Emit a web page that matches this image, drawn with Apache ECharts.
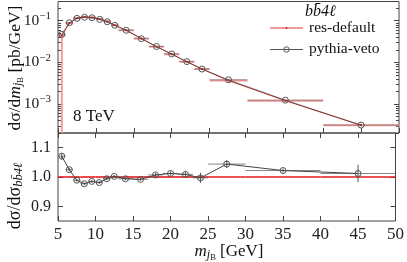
<!DOCTYPE html>
<html><head><meta charset="utf-8">
<script src="https://cdn.jsdelivr.net/npm/echarts@6/dist/echarts.min.js"></script>
<style>html,body{margin:0;padding:0;background:#fff}#c{width:407px;height:262px}</style>
</head><body><div id="c"></div>
<script>
// ---- data ----
const binLo  = [5,6,7,8,9,10,11,12,13,15,17,19,21,23,25,30,40];
const binHi  = [6,7,8,9,10,11,12,13,15,17,19,21,23,25,30,40,50];
const binMid = [5.5,6.5,7.5,8.5,9.5,10.5,11.5,12.5,14,16,18,20,22,24,27.5,35,45];
const resDefault = [0.0439,0.0873,0.1153,0.1238,0.1198,0.1101,0.0952,0.0774,0.0593,0.0373,0.0238,0.0157,0.0103,0.00692,0.00364,0.00120,0.000306];
const resErrDown = [0.0439,0.0006,0.0006,0.0006,0.0006,0.0006,0.0005,0.0004,0.0003,0.0002,0.00015,0.0001,0.0001,0.00008,0.00005,0.00002,0.00001];
const resErrUp   = [0.004,0.0006,0.0006,0.0006,0.0006,0.0006,0.0005,0.0004,0.0003,0.0002,0.00015,0.0001,0.0001,0.00008,0.00005,0.00002,0.00001];
const pythiaVeto = [0.047,0.0895,0.114,0.121,0.118,0.108,0.0946,0.0776,0.0589,0.037,0.024,0.0159,0.0104,0.0069,0.0038,0.00123,0.00031];
const pythiaErr  = [0.0005,0.0005,0.0006,0.0006,0.0006,0.0005,0.0005,0.0004,0.0003,0.0002,0.00015,0.0001,0.0001,0.0001,0.00005,0.00001,0.00001];
const ratioPythia = [1.071,1.025,0.989,0.977,0.985,0.981,0.994,1.002,0.994,0.992,1.007,1.012,1.009,0.997,1.044,1.022,1.012];
const ratioErr    = [0.011,0.006,0.005,0.005,0.005,0.005,0.005,0.005,0.005,0.005,0.006,0.007,0.010,0.017,0.014,0.007,0.030];
const ratioRes    = [1,1,1,1,1,1,1,1,1,1,1,1,1,1,1,1,1];
const logMajorTicks = [0.001,0.01,0.1];
const logMinorTicks = [0.0002,0.0003,0.0004,0.0005,0.0006,0.0007,0.0008,0.0009,
  0.002,0.003,0.004,0.005,0.006,0.007,0.008,0.009,
  0.02,0.03,0.04,0.05,0.06,0.07,0.08,0.09,0.2];
const ratioTicks = [0.9,1.0,1.1];

// ---- layout / style ----
const FONT = 'Liberation Serif';
const GL = 58, GW = 341;
const Y_MIN = 0.0002, Y_MAX = 0.29;
const X_MIN = 5, X_MAX = 50;
const AX = '#444';

function hbar(color, width, opacity){
  return function(params, api){
    const a = api.coord([api.value(0), api.value(2)]);
    const b = api.coord([api.value(1), api.value(2)]);
    return {type:'line', shape:{x1:a[0],y1:a[1],x2:b[0],y2:b[1]},
      style:{stroke:color, lineWidth:width, opacity:opacity}};
  };
}
function vbar(color, width, yLow){
  return function(params, api){
    const lo = Math.max(api.value(1), yLow);
    const a = api.coord([api.value(0), lo]);
    const b = api.coord([api.value(0), api.value(2)]);
    return {type:'line', shape:{x1:a[0],y1:a[1],x2:b[0],y2:b[1]},
      style:{stroke:color, lineWidth:width}};
  };
}
function minorTick(params, api){
  const l = api.coord([X_MIN, api.value(0)]);
  const r = api.coord([X_MAX, api.value(0)]);
  return {type:'group', children:[
    {type:'line', shape:{x1:l[0],y1:Math.round(l[1])+0.5,x2:l[0]+3,y2:Math.round(l[1])+0.5}, style:{stroke:AX,lineWidth:1}},
    {type:'line', shape:{x1:r[0]-3,y1:Math.round(r[1])+0.5,x2:r[0],y2:Math.round(r[1])+0.5}, style:{stroke:AX,lineWidth:1}}
  ]};
}

const chart = echarts.init(document.getElementById('c'), null, {renderer:'canvas', width:407, height:262});

const tickStyle = {inside:true, length:5, lineStyle:{color:AX, width:1}};
const xBase = {type:'value', min:X_MIN, max:X_MAX, interval:5, axisLine:{show:false}, splitLine:{show:false}};

const option = {
  animation:false,
  backgroundColor:'#fff',
  grid:[
    {left:GL, width:GW, top:1.5, height:131.5, show:true, borderColor:AX, borderWidth:1, backgroundColor:'transparent'},
    {left:GL, width:GW, top:133, height:88, show:true, borderColor:AX, borderWidth:1, backgroundColor:'transparent'}
  ],
  xAxis:[
    Object.assign({}, xBase, {gridIndex:0, position:'bottom', axisTick:tickStyle, axisLabel:{show:false}}),
    Object.assign({}, xBase, {gridIndex:1, position:'bottom', axisTick:tickStyle,
      axisLabel:{fontFamily:FONT, fontSize:17, color:'#222', margin:5}}),
    Object.assign({}, xBase, {gridIndex:1, position:'top', axisTick:tickStyle, axisLabel:{show:false}})
  ],
  yAxis:[
    {gridIndex:0, type:'log', logBase:10, min:Y_MIN, max:Y_MAX, position:'left',
      axisLine:{show:false}, splitLine:{show:false},
      axisTick:Object.assign({customValues:logMajorTicks}, tickStyle),
      axisLabel:{customValues:logMajorTicks, margin:7,
        formatter:function(v){ const e = Math.round(Math.log10(v)); return '{m|10}{s|\u2212' + Math.abs(e) + '}'; },
        rich:{m:{fontFamily:FONT, fontSize:15.5, color:'#222'}, s:{fontFamily:FONT, fontSize:11, color:'#222', padding:[0,0,9,0]}}}},
    {gridIndex:0, type:'log', logBase:10, min:Y_MIN, max:Y_MAX, position:'right',
      axisLine:{show:false}, splitLine:{show:false},
      axisTick:Object.assign({customValues:logMajorTicks}, tickStyle), axisLabel:{show:false}},
    {gridIndex:1, type:'value', min:0.85, max:1.15, position:'left',
      axisLine:{show:false}, splitLine:{show:false},
      axisTick:Object.assign({customValues:ratioTicks}, tickStyle),
      axisLabel:{customValues:ratioTicks, fontFamily:FONT, fontSize:16, color:'#222', margin:7,
        formatter:function(v){ return v.toFixed(1); }}},
    {gridIndex:1, type:'value', min:0.85, max:1.15, position:'right',
      axisLine:{show:false}, splitLine:{show:false},
      axisTick:Object.assign({customValues:ratioTicks}, tickStyle), axisLabel:{show:false}}
  ],
  series:[
    {type:'custom', name:'minor', xAxisIndex:0, yAxisIndex:0, clip:false, silent:true,
      renderItem:minorTick, data:logMinorTicks.map(v=>[v]), encode:{y:0}, z:1},
    // upper panel: res-default
    {type:'custom', xAxisIndex:0, yAxisIndex:0, silent:true, clip:true,
      renderItem:hbar('#f29a9a', 2, 1), data:binLo.map((l,i)=>[l, binHi[i], resDefault[i]]), z:2},
    {type:'custom', xAxisIndex:0, yAxisIndex:0, silent:true, clip:true,
      renderItem:vbar('#f29a9a', 2, Y_MIN), data:binMid.map((x,i)=>[x, resDefault[i]-resErrDown[i], resDefault[i]+resErrUp[i]]), z:2},
    // upper panel: pythia-veto bars
    {type:'custom', xAxisIndex:0, yAxisIndex:0, silent:true, clip:true,
      renderItem:hbar('#555', 1, 0.5), data:binLo.map((l,i)=>[l, binHi[i], pythiaVeto[i]]), z:3},
    {type:'custom', xAxisIndex:0, yAxisIndex:0, silent:true, clip:true,
      renderItem:vbar('#555', 1, Y_MIN), data:binMid.map((x,i)=>[x, pythiaVeto[i]-pythiaErr[i], pythiaVeto[i]+pythiaErr[i]]), z:3},
    {type:'line', name:'res-default', xAxisIndex:0, yAxisIndex:0,
      data:binMid.map((x,i)=>[x, resDefault[i]]),
      lineStyle:{color:'#c02828', width:1}, symbol:'circle', symbolSize:2,
      itemStyle:{color:'#c02828'}, z:4},
    {type:'line', name:'pythia-veto', xAxisIndex:0, yAxisIndex:0,
      data:binMid.map((x,i)=>[x, pythiaVeto[i]]),
      lineStyle:{color:'#444', width:1, opacity:0.6}, symbol:'circle', symbolSize:6,
      itemStyle:{color:'rgba(0,0,0,0)', borderColor:'#555', borderWidth:1}, z:5},
    // lower panel
    {type:'custom', xAxisIndex:1, yAxisIndex:2, silent:true, clip:true,
      renderItem:hbar('#e41a1c', 1.6, 1), data:binLo.map((l,i)=>[l, binHi[i], ratioRes[i]]), z:2},
    {type:'custom', xAxisIndex:1, yAxisIndex:2, silent:true, clip:true,
      renderItem:hbar('#666', 1, 0.8), data:binLo.map((l,i)=>[l, binHi[i], ratioPythia[i]]), z:3},
    {type:'custom', xAxisIndex:1, yAxisIndex:2, silent:true, clip:true,
      renderItem:vbar('#555', 1, 0.85), data:binMid.map((x,i)=>[x, ratioPythia[i]-ratioErr[i], ratioPythia[i]+ratioErr[i]]), z:3},
    {type:'line', name:'pythia-veto ratio', xAxisIndex:1, yAxisIndex:2,
      data:binMid.map((x,i)=>[x, ratioPythia[i]]),
      lineStyle:{color:'#444', width:1}, symbol:'circle', symbolSize:6,
      itemStyle:{color:'rgba(0,0,0,0)', borderColor:'#555', borderWidth:1}, z:5}
  ],
  graphic:[
    {type:'text', left:73, top:108, style:{text:'8 TeV', font:'17px "Liberation Serif"', fill:'#111'}},
    // legend
    {type:'text', left:305, top:4, style:{text:'bb\u03044\u2113', font:'italic 16px "Liberation Serif"', fill:'#111'}},
    {type:'line', shape:{x1:270,y1:28,x2:303,y2:28}, style:{stroke:'#f29a9a', lineWidth:2}},
    {type:'circle', shape:{cx:286.5,cy:28,r:1}, style:{fill:'#d42020'}},
    {type:'text', x:309, y:28, style:{text:'res-default', font:'15.5px "Liberation Serif"', fill:'#111', verticalAlign:'middle'}},
    {type:'line', shape:{x1:270,y1:49.5,x2:303,y2:49.5}, style:{stroke:'#555', lineWidth:1}},
    {type:'circle', shape:{cx:286.5,cy:49.5,r:2.7}, style:{fill:'none', stroke:'#555', lineWidth:1}},
    {type:'text', x:309, y:49, style:{text:'pythia-veto', font:'15.5px "Liberation Serif"', fill:'#111', verticalAlign:'middle'}},
    // axis titles
    {type:'text', x:229, y:252, style:{
      text:'{i|m}{s|j}{ss|B}{r| [GeV]}', align:'center', verticalAlign:'middle',
      rich:{i:{font:'italic 17px "Liberation Serif"', fill:'#111'},
            s:{font:'italic 12px "Liberation Serif"', fill:'#111', padding:[6,0,0,0]},
            ss:{font:'8.5px "Liberation Serif"', fill:'#111', padding:[11,0,0,0]},
            r:{font:'17px "Liberation Serif"', fill:'#111'}}}},
    {type:'text', x:15, y:68, rotation:Math.PI/2, style:{
      text:'{r|d\u03c3/d}{i|m}{s|j}{ss|B}{r| [pb/GeV]}', align:'center', verticalAlign:'middle',
      rich:{i:{font:'italic 17.5px "Liberation Serif"', fill:'#111'},
            s:{font:'italic 12px "Liberation Serif"', fill:'#111', padding:[6,0,0,0]},
            ss:{font:'8.5px "Liberation Serif"', fill:'#111', padding:[11,0,0,0]},
            r:{font:'17.5px "Liberation Serif"', fill:'#111'}}}},
    {type:'text', x:15, y:196, rotation:Math.PI/2, style:{
      text:'{r|d\u03c3/d\u03c3}{s|bb\u03044\u2113}', align:'center', verticalAlign:'middle',
      rich:{s:{font:'italic 12.5px "Liberation Serif"', fill:'#111', padding:[7,0,0,0]},
            r:{font:'18px "Liberation Serif"', fill:'#111'}}}}
  ]
};
chart.setOption(option);
</script>
</body></html>
